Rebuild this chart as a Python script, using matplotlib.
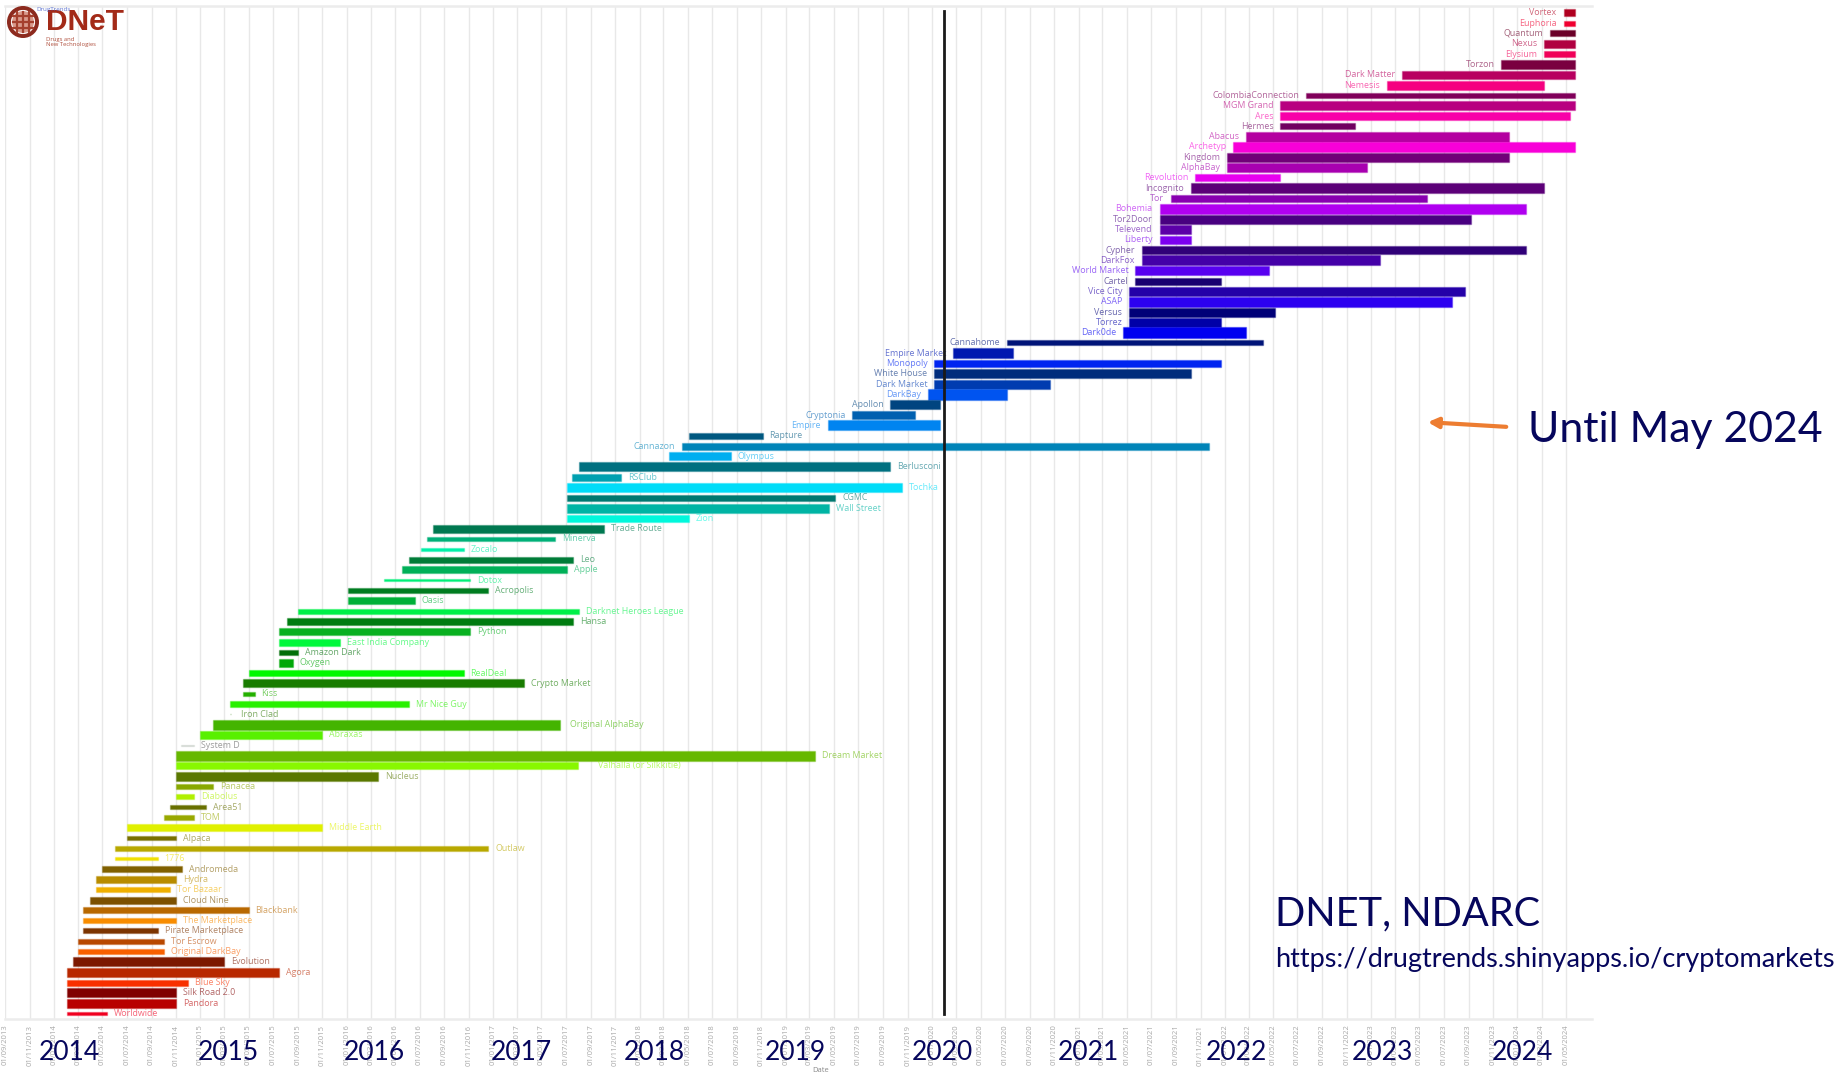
"""Darknet market lifetimes, Gantt style chart from DNET / NDARC."""
import matplotlib
matplotlib.use("Agg")
import matplotlib.dates as mdates
import matplotlib.pyplot as plt
import numpy as np
import pandas as pd
from matplotlib.patches import Circle

# one row per market, top row first
markets = [
    "Vortex", "Euphoria", "Quantum", "Nexus", "Elysium", "Torzon", "Dark Matter", "Nemesis",
    "ColombiaConnection", "MGM Grand", "Ares", "Hermes", "Abacus", "Archetyp", "Kingdom", "AlphaBay",
    "Revolution", "Incognito", "Tor", "Bohemia", "Tor2Door", "Televend", "Liberty", "Cypher",
    "DarkFox", "World Market", "Cartel", "Vice City", "ASAP", "Versus", "Torrez", "Dark0de",
    "Cannahome", "Empire Market", "Monopoly", "White House", "Dark Market", "DarkBay", "Apollon", "Cryptonia",
    "Empire", "Rapture", "Cannazon", "Olympus", "Berlusconi", "RSClub", "Tochka", "CGMC",
    "Wall Street", "Zion", "Trade Route", "Minerva", "Zocalo", "Leo", "Apple", "Dotox",
    "Acropolis", "Oasis", "Darknet Heroes League", "Hansa", "Python", "East India Company", "Amazon Dark", "Oxygen",
    "RealDeal", "Crypto Market", "Kiss", "Mr Nice Guy", "Iron Clad", "Original AlphaBay", "Abraxas", "System D",
    "Dream Market", "Valhalla (or Silkkitie)", "Nucleus", "Panacea", "Diabolus", "Area51", "TOM", "Middle Earth",
    "Alpaca", "Outlaw", "1776", "Andromeda", "Hydra", "Tor Bazaar", "Cloud Nine", "Blackbank",
    "The Marketplace", "Pirate Marketplace", "Tor Escrow", "Original DarkBay", "Evolution", "Agora", "Blue Sky",
    "Silk Road 2.0", "Pandora", "Worldwide",
]
starts = [
    "2024-04-25", "2024-04-25", "2024-03-22", "2024-03-07", "2024-03-07", "2023-11-22", "2023-03-19", "2023-02-10",
    "2022-07-22", "2022-05-19", "2022-05-19", "2022-05-19", "2022-02-22", "2022-01-22", "2022-01-07", "2022-01-07",
    "2021-10-19", "2021-10-07", "2021-08-19", "2021-07-22", "2021-07-22", "2021-07-22", "2021-07-22", "2021-06-07",
    "2021-06-07", "2021-05-22", "2021-05-22", "2021-05-07", "2021-05-07", "2021-05-07", "2021-05-07", "2021-04-22",
    "2020-07-07", "2020-02-22", "2020-01-07", "2020-01-07", "2020-01-07", "2019-12-22", "2019-09-19", "2019-06-16",
    "2019-04-16", "2018-05-04", "2018-04-16", "2018-03-16", "2017-08-04", "2017-07-16", "2017-07-04", "2017-07-04",
    "2017-07-04", "2017-07-04", "2016-08-04", "2016-07-19", "2016-07-04", "2016-06-04", "2016-05-19", "2016-04-04",
    "2016-01-04", "2016-01-04", "2015-09-01", "2015-08-04", "2015-07-16", "2015-07-16", "2015-07-16", "2015-07-16",
    "2015-05-01", "2015-04-16", "2015-04-16", "2015-03-16", "2015-03-16", "2015-02-01", "2015-01-01", "2014-11-13",
    "2014-11-01", "2014-11-01", "2014-11-01", "2014-11-01", "2014-11-01", "2014-10-16", "2014-10-01", "2014-07-01",
    "2014-07-01", "2014-06-01", "2014-06-01", "2014-05-01", "2014-04-16", "2014-04-16", "2014-04-01", "2014-03-13",
    "2014-03-13", "2014-03-13", "2014-03-01", "2014-03-01", "2014-02-16", "2014-02-01", "2014-02-01",
    "2014-02-01", "2014-02-01", "2014-02-01",
]
ends = [
    "2024-05-23", "2024-05-23", "2024-05-23", "2024-05-23", "2024-05-23", "2024-05-23", "2024-05-23", "2024-03-07",
    "2024-05-23", "2024-05-23", "2024-05-10", "2022-11-22", "2023-12-10", "2024-05-23", "2023-12-10", "2022-12-22",
    "2022-05-19", "2024-03-07", "2023-05-19", "2024-01-22", "2023-09-07", "2021-10-07", "2021-10-07", "2024-01-22",
    "2023-01-22", "2022-04-22", "2021-12-22", "2023-08-22", "2023-07-22", "2022-05-07", "2021-12-22", "2022-02-22",
    "2022-04-07", "2020-07-22", "2021-12-22", "2021-10-07", "2020-10-22", "2020-07-07", "2020-01-22", "2019-11-19",
    "2020-01-22", "2018-11-04", "2021-11-22", "2018-08-16", "2019-09-19", "2017-11-16", "2019-10-19", "2019-05-04",
    "2019-04-19", "2018-05-04", "2017-10-04", "2017-06-04", "2016-10-19", "2017-07-19", "2017-07-04", "2016-11-04",
    "2016-12-19", "2016-06-19", "2017-08-04", "2017-07-19", "2016-11-04", "2015-12-16", "2015-09-01", "2015-08-19",
    "2016-10-19", "2017-03-19", "2015-05-16", "2016-06-04", "2015-03-18", "2017-06-16", "2015-11-01", "2014-12-16",
    "2019-03-16", "2017-08-01", "2016-03-19", "2015-02-01", "2014-12-16", "2015-01-16", "2014-12-16", "2015-11-01",
    "2014-11-01", "2016-12-19", "2014-09-16", "2014-11-16", "2014-11-01", "2014-10-16", "2014-11-01", "2015-05-01",
    "2014-11-01", "2014-09-16", "2014-10-01", "2014-10-01", "2015-03-01", "2015-07-16", "2014-12-01",
    "2014-11-01", "2014-11-01", "2014-05-13",
]
# bar thickness carries a value in the original, read here in pixels of the picture
bar_size = [
    7, 5, 6, 8, 6, 9, 8, 9,
    5, 9, 8, 6, 10, 10, 9, 9,
    7, 10, 7, 10, 9, 9, 8, 8,
    10, 9, 7, 9, 10, 9, 9, 11,
    5, 10, 7, 9, 9, 11, 9, 8,
    10, 6, 7, 8, 9, 7, 9, 6,
    9, 7, 8, 4, 3, 6, 7, 2,
    5, 7, 5, 7, 7, 7, 5, 8,
    6, 8, 4, 6, 0, 10, 8, 1,
    10, 7, 9, 5, 5, 4, 5, 7,
    4, 5, 3, 6, 7, 5, 7, 6,
    5, 5, 5, 5, 9, 9, 6,
    9, 9, 3,
]
bar_colors = [
    "#b00020", "#f00030", "#6b0028", "#b00040", "#f00058", "#7a0040", "#b80060", "#f50080",
    "#80005a", "#b80080", "#f800a8", "#700060", "#b400a0", "#f800d8", "#700078", "#a800b0",
    "#e800f0", "#5c0078", "#8800b0", "#b000f0", "#480080", "#5c00a8", "#7c00f0", "#300078",
    "#4400a8", "#5800f0", "#180070", "#2400a8", "#2c00f0", "#000078", "#0000a8", "#0000f0",
    "#001478", "#0018b0", "#0024f0", "#002c7c", "#003cb0", "#0054f0", "#004480", "#0060b0",
    "#0084f0", "#005880", "#0084b8", "#00aef0", "#007080", "#00a0b0", "#00dcf8", "#007870",
    "#00b4a4", "#00f8dc", "#007850", "#00b078", "#00f0a8", "#007c38", "#00b058", "#00f078",
    "#007c20", "#00b038", "#00f048", "#007c10", "#08b020", "#00f83c", "#006e08", "#00a808",
    "#00f800", "#187c00", "#24b000", "#28f000", "#2c7800", "#44b400", "#58f000", "#c8d0c8",
    "#66b800", "#88f800", "#5a7800", "#88a800", "#b0f000", "#687000", "#98a800", "#e0f000",
    "#787000", "#b8a800", "#f0e000", "#806000", "#b88c00", "#f0b000", "#7c5000", "#b86800",
    "#f88c00", "#7c3400", "#b84800", "#f86000", "#7c1800", "#b82800", "#f83000",
    "#800000", "#b80000", "#f00020",
]
# everything down to Cannazon is labelled on the left, except this one
right_above_cannazon = ["Rapture"]
# labels that sit further from their bar than the rest, extra points
label_extra_gap = {"Valhalla (or Silkkitie)": 9, "Original AlphaBay": 2, "Iron Clad": 2}
year_labels = ["2014", "2015", "2016", "2017", "2018", "2019", "2020", "2021", "2022", "2023", "2024"]
year_label_x = [69, 228, 374, 521, 654, 795, 942, 1088, 1236, 1382, 1522]
marker_date = "2020-02-01"

ROW_PX = 10.316
W, H = 1835, 1075
NAVY = "#06065c"
LATO = ["Lato", "DejaVu Sans"]


def main():
    plt.rcParams["font.family"] = ["Open Sans", "DejaVu Sans"]
    fig = plt.figure(figsize=(W / 100, H / 100), dpi=100, facecolor="white")
    left, right, top, bottom = 5.3, 1592, 6, 1019
    ax = fig.add_axes([left / W, 1 - bottom / H, (right - left) / W, (bottom - top) / H])

    start_num = mdates.date2num(pd.to_datetime(starts))
    end_num = mdates.date2num(pd.to_datetime(ends))
    y = np.arange(len(markets))
    heights = np.array(bar_size) / ROW_PX

    ax.barh(y, end_num - start_num, left=start_num, height=heights, color=bar_colors, zorder=3,
            edgecolor=[matplotlib.colors.to_rgba(c, 0.35) for c in bar_colors], linewidth=1.0)

    split_row = markets.index("Cannazon")
    for i, name in enumerate(markets):
        on_left = i <= split_row and name not in right_above_cannazon
        x = start_num[i] if on_left else end_num[i]
        gap = 5 + label_extra_gap.get(name, 0)
        color = "#5a5a5a" if name == "System D" else bar_colors[i]
        ax.annotate(name, xy=(x, i), xytext=(-gap if on_left else gap, 0), textcoords="offset points",
                    ha="right" if on_left else "left", va="center", fontsize=6.4,
                    color=color, alpha=0.6, zorder=4)

    ax.set_xlim(mdates.date2num(pd.Timestamp("2013-09-01")), mdates.date2num(pd.Timestamp("2024-07-05")))
    ax.set_ylim(97.535, -0.665)
    ax.set_yticks([])

    grid_dates = pd.date_range("2013-09-01", "2024-05-01", freq="2MS")
    ax.set_xticks(mdates.date2num(grid_dates))
    ax.set_xticklabels([d.strftime("%d/%m/%Y") for d in grid_dates], rotation=90, fontsize=5.5, color="#a8a8a8")
    ax.tick_params(axis="x", length=0, pad=4)
    ax.grid(axis="x", color="#e8e8e8", linewidth=1.0, zorder=0)
    ax.set_axisbelow(True)
    for side in ("left", "right"):
        ax.spines[side].set_visible(False)
    for side in ("top", "bottom"):
        ax.spines[side].set_color("#ececec")
        ax.spines[side].set_linewidth(1.8)

    ax.axvline(mdates.date2num(pd.Timestamp(marker_date)), ymin=0.005, ymax=0.995, color="#1a1a1a",
               linewidth=2.0, zorder=5)

    # overlay in picture pixels for the slide annotations
    ov = fig.add_axes([0, 0, 1, 1], facecolor="none")
    ov.set_xlim(0, W)
    ov.set_ylim(H, 0)
    ov.axis("off")

    ov.text(821, 1070, "Date", fontsize=5.5, color="#888888", ha="center", va="center")
    for label, x in zip(year_labels, year_label_x):
        ov.text(x, 1053, label, fontsize=19, color=NAVY, ha="center", va="center", family=LATO)

    ov.text(1528, 430, "Until May 2024", fontsize=30.8, color=NAVY, ha="left", va="center", family=LATO)
    ov.text(1275, 914, "DNET, NDARC", fontsize=28.6, color=NAVY, ha="left", va="center", family=LATO)
    ov.text(1275, 959, "https://drugtrends.shinyapps.io/cryptomarkets", fontsize=19.5, color=NAVY,
            ha="left", va="center", family=LATO)
    ov.annotate("", xy=(1425, 422), xytext=(1509, 427),
                arrowprops=dict(arrowstyle="-|>,head_length=0.6,head_width=0.3", color="#ed7d31", lw=3))

    # logo
    ov.add_patch(Circle((23, 22), 16, facecolor="#8c2a1e", edgecolor="none"))
    ov.add_patch(Circle((23, 22), 11.5, facecolor="#d99a8c", edgecolor="#ffffff", linewidth=0.8))
    for dx in (-6, 0, 6):
        ov.plot([23 + dx, 23 + dx], [12, 32], color="#a5402e", linewidth=1.6)
        ov.plot([13, 33], [22 + dx, 22 + dx], color="#a5402e", linewidth=1.6)
    ov.text(46, 22, "DNeT", fontsize=21.5, fontweight="bold", color="#a32a18", ha="left", va="center",
            family=["Liberation Sans", "DejaVu Sans"])
    ov.text(46, 42, "Drugs and\nNew Technologies", fontsize=4.2, color="#b0503e", ha="left", va="center",
            linespacing=1.0)
    ov.text(36, 10, "DrugTrends", fontsize=4.5, color="#3a55c8", ha="left", va="center", alpha=0.8)

    fig.savefig("out.png", dpi=100)


if __name__ == "__main__":
    main()
